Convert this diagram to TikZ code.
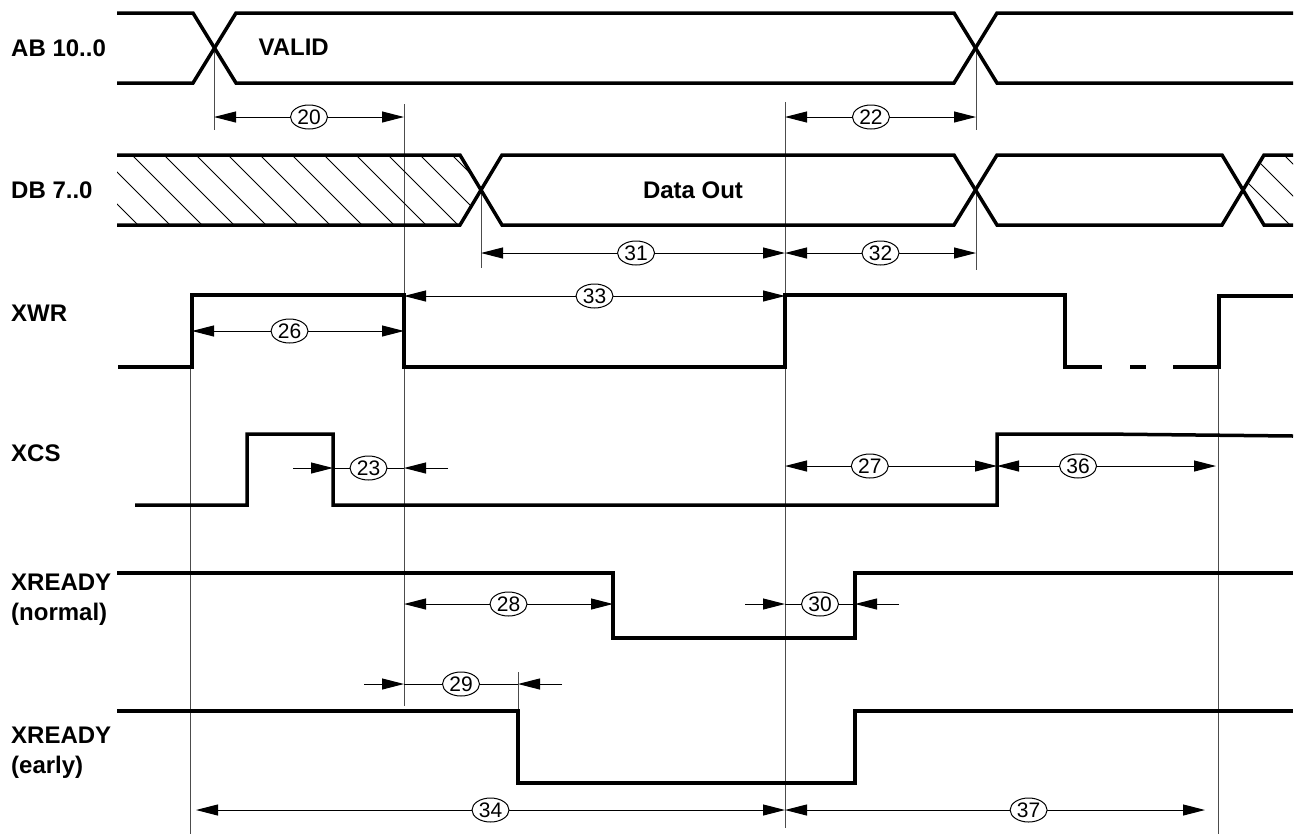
\documentclass[tikz,border=0pt]{standalone}
\usepackage{fontspec}
\setmainfont{Liberation Sans}
\usetikzlibrary{arrows.meta,shapes.geometric}
\tikzset{
  sig/.style={line width=3.5pt},
  ext/.style={line width=1pt,black!70},
  dimline/.style={line width=1pt},
  tag/.style={ellipse,draw,line width=1pt,fill=white,inner sep=0pt,
    minimum width=37pt,minimum height=24pt,font=\fontsize{21}{21}\selectfont},
  signame/.style={anchor=west,align=left,inner sep=0pt,font=\bfseries\fontsize{24}{30}\selectfont},
  hatch/.style={line width=0.8pt},
  >={Triangle[length=22pt,width=11pt]}
}
\begin{document}
\begin{tikzpicture}[x=1pt,y=-1pt]
  \useasboundingbox (0,0) rectangle (1304,836);
  % signal names
  \node[signame] (nab) at (11,48) {AB 10..0};
  \node[signame] (ndb) at (11,190) {DB 7..0};
  \node[signame] (nwr) at (11,313) {XWR};
  \node[signame] (ncs) at (11,453) {XCS};
  \node[signame] (nrdy) at (11,600) {XREADY\\(normal)};
  \node[signame] (nrdye) at (11,753) {XREADY\\(early)};
  % extension lines
  \draw[ext] (214,48) -- (214,130);
  \draw[ext] (976,48) -- (976,130);
  \draw[ext] (481,190) -- (481,268);
  \draw[ext] (976,190) -- (976,270);
  \draw[ext] (404,104) -- (404,706);
  \draw[ext] (785,102) -- (785,828);
  \draw[ext] (190,323) -- (190,834);
  \draw[ext] (1218,367) -- (1218,834);
  \draw[ext] (518,672) -- (518,711);
  % hatched (invalid) data
  \begin{scope}
    \clip (117,155) -- (460,155) -- (481,190) -- (460,225) -- (117,225) -- cycle
          (1243,190) -- (1264,155) -- (1293,155) -- (1293,225) -- (1264,225) -- cycle;
    \foreach \k in {1,...,40}
      \draw[hatch] (4+32*\k,155) -- ++(70,70);
  \end{scope}
  % buses
  \draw[sig] (117,13) -- (193,13) -- (236,83) -- (954,83) -- (997,13) -- (1293,13);
  \draw[sig] (117,83) -- (193,83) -- (236,13) -- (954,13) -- (997,83) -- (1293,83);
  \node[font=\bfseries\fontsize{24}{24}\selectfont,anchor=west] (valid) at (255,47) {VALID};
  \draw[sig] (117,155) -- (460,155) -- (502,225) -- (954,225) -- (997,155) -- (1222,155) -- (1264,225) -- (1293,225);
  \draw[sig] (117,225) -- (460,225) -- (502,155) -- (954,155) -- (997,225) -- (1222,225) -- (1264,155) -- (1293,155);
  \node[font=\bfseries\fontsize{24}{24}\selectfont] (dout) at (693,190) {Data Out};
  % control lines
  \draw[sig] (118,367) -- (192,367) -- (192,295) -- (404,295) -- (404,367) -- (785,367)
    -- (785,295) -- (1065,295) -- (1065,367) -- (1102,367);
  \draw[sig] (1130,367) -- (1146,367);
  \draw[sig] (1173,367) -- (1219,367) -- (1219,296) -- (1293,296);
  \draw[sig] (135,505) -- (247,505) -- (247,434) -- (333,434) -- (333,505) -- (997,505)
    -- (997,434) -- (1100,434) -- (1293,436);
  \draw[sig] (117,573) -- (613,573) -- (613,638) -- (855,638) -- (855,573) -- (1293,573);
  \draw[sig] (117,711) -- (518,711) -- (518,783) -- (855,783) -- (855,711) -- (1293,711);
  % timings
  \foreach \xa/\xb/\y/\p/\lab in {214/404/117/0.5/20, 785/976/117/0.45/22,
      481/785/253/0.51/31, 785/976/253/0.5/32, 404/785/296/0.5/33,
      192/404/331/0.46/26, 785/997/466/0.4/27, 997/1216/466/0.37/36,
      404/613/604/0.5/28, 196/785/810/0.5/34, 785/1205/810/0.58/37}
    \draw[dimline,<->] (\xa,\y) -- node[tag,pos=\p] (d\lab) {\lab} (\xb,\y);
  \foreach \xa/\xb/\y/\lab in {333/404/468/23, 404/518/684/29, 785/855/604/30} {
    \draw[dimline,->] (\xa-40,\y) -- (\xa,\y);
    \draw[dimline] (\xa,\y) -- node[tag] (d\lab) {\lab} (\xb,\y);
    \draw[dimline,->] (\xb+44,\y) -- (\xb,\y);
  }
\end{tikzpicture}
\end{document}
